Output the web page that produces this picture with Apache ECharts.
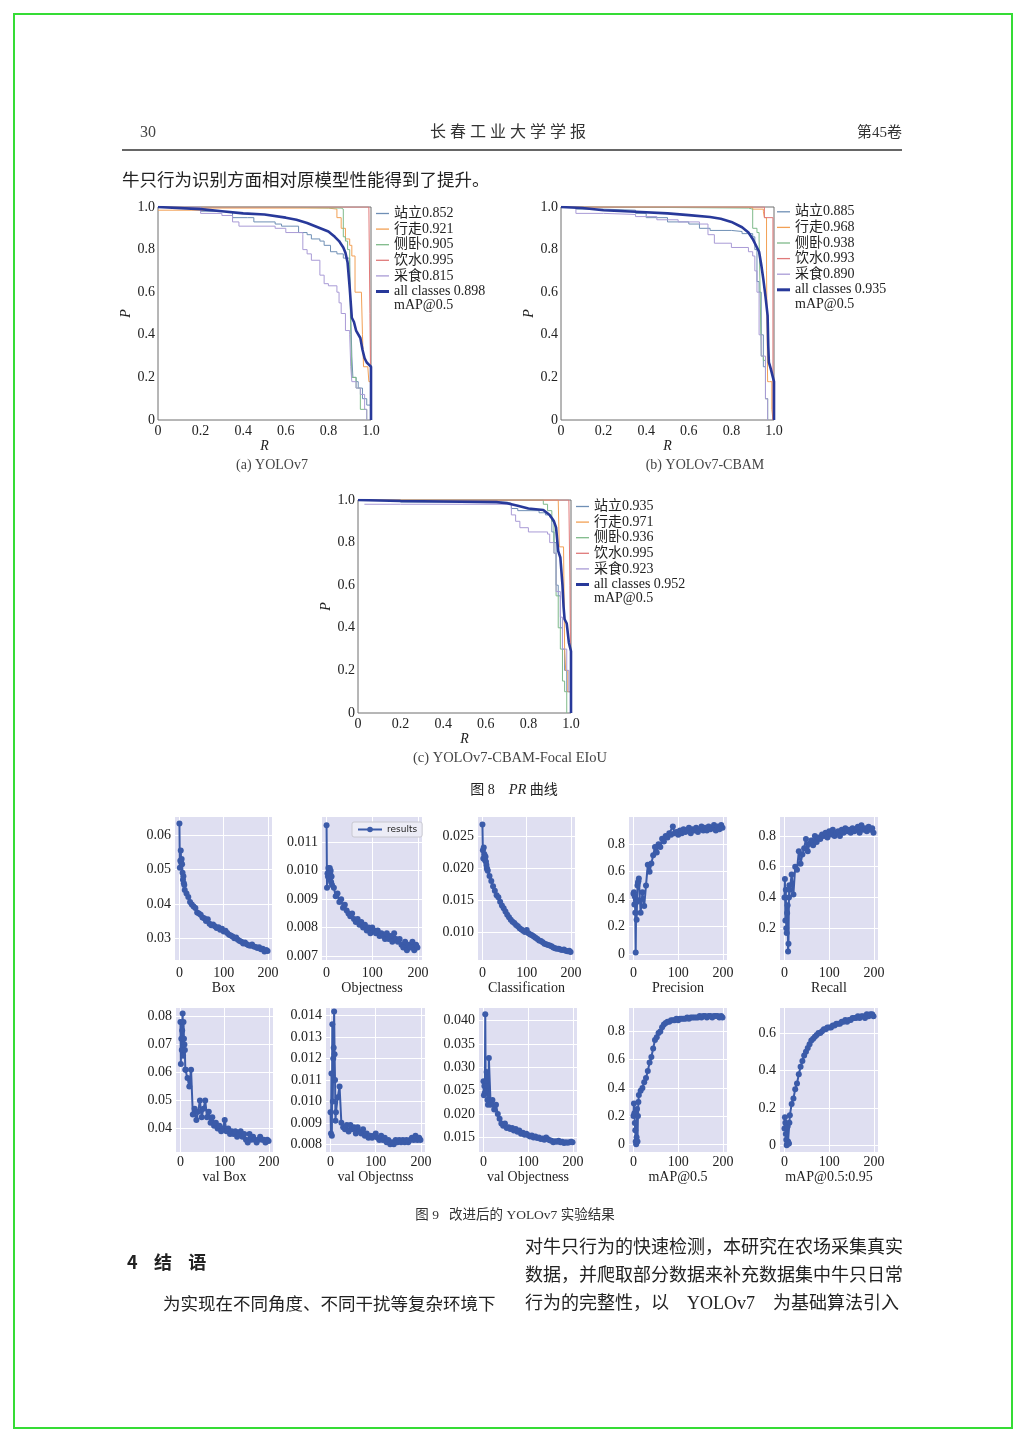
<!DOCTYPE html>
<html><head><meta charset="utf-8">
<script src="https://cdn.jsdelivr.net/npm/echarts@6/dist/echarts.min.js"></script>
<style>html,body{margin:0;padding:0;background:#fff}#c{width:1024px;height:1442px}</style>
</head><body><div id="c"></div><script>
// ---------- PR curve data: [R, P] ----------
const prA_names = ['站立0.852','行走0.921','侧卧0.905','饮水0.995','采食0.815'];
const prA_all = 'all classes 0.898';
const prA_stand = [[0,1],[0.05,1],[0.05,0.995],[0.2,0.99],[0.2,0.98],[0.3,0.975],[0.35,0.97],[0.35,0.95],[0.42,0.95],[0.45,0.93],[0.55,0.92],[0.58,0.91],[0.62,0.91],[0.66,0.88],[0.7,0.87],[0.72,0.85],[0.76,0.84],[0.78,0.82],[0.81,0.79],[0.84,0.78],[0.87,0.76],[0.9,0.73],[0.905,0.5],[0.91,0.3],[0.915,0.2],[0.93,0.18],[0.94,0.15],[0.96,0.1],[0.98,0.07],[1.0,0.02]];
const prA_walk = [[0,0.985],[0.22,0.985],[0.22,0.995],[0.8,0.99],[0.84,0.95],[0.86,0.9],[0.88,0.85],[0.9,0.82],[0.91,0.77],[0.925,0.6],[0.955,0.6],[0.96,0.4],[0.965,0.25],[0.985,0.25],[0.99,0.18],[1.0,0.05],[1.0,0]];
const prA_lie = [[0,1],[0.55,1],[0.55,0.995],[0.86,0.99],[0.87,0.86],[0.88,0.84],[0.89,0.8],[0.9,0.7],[0.905,0.4],[0.91,0.2],[0.93,0.15],[0.95,0.05],[0.98,0]];
const prA_drink = [[0,1],[0.99,1],[0.995,0.5],[1.0,0]];
const prA_feed = [[0,1],[0.2,0.99],[0.2,0.97],[0.3,0.96],[0.35,0.93],[0.38,0.91],[0.55,0.9],[0.6,0.88],[0.68,0.87],[0.68,0.8],[0.7,0.78],[0.72,0.75],[0.76,0.68],[0.78,0.64],[0.8,0.63],[0.84,0.6],[0.85,0.55],[0.86,0.5],[0.88,0.42],[0.9,0.4],[0.905,0.25],[0.91,0.18],[0.93,0.15],[0.95,0.12],[0.97,0.05],[0.98,0]];
const prA_allData = [[0,1],[0.2,0.99],[0.3,0.98],[0.4,0.97],[0.5,0.965],[0.6,0.95],[0.65,0.94],[0.7,0.925],[0.75,0.905],[0.8,0.885],[0.83,0.86],[0.85,0.84],[0.87,0.81],[0.88,0.785],[0.89,0.74],[0.9,0.62],[0.91,0.48],[0.92,0.46],[0.93,0.42],[0.95,0.385],[0.96,0.33],[0.97,0.29],[0.98,0.27],[0.99,0.26],[1.0,0.25],[1.0,0]];

const prB_names = ['站立0.885','行走0.968','侧卧0.938','饮水0.993','采食0.890'];
const prB_all = 'all classes 0.935';
const prB_stand = [[0,1],[0.07,0.99],[0.2,0.985],[0.35,0.97],[0.4,0.95],[0.5,0.93],[0.6,0.92],[0.65,0.9],[0.7,0.89],[0.8,0.885],[0.85,0.875],[0.9,0.86],[0.91,0.8],[0.92,0.65],[0.93,0.6],[0.94,0.4],[0.95,0.25],[0.96,0.1],[0.97,0]];
const prB_walk = [[0,1],[0.85,1],[0.9,0.99],[0.95,0.98],[0.955,0.95],[0.965,0.7],[0.97,0.18],[0.98,0.18],[0.99,0.05],[0.995,0]];
const prB_lie = [[0,1],[0.2,0.995],[0.88,0.99],[0.9,0.9],[0.92,0.88],[0.93,0.85],[0.935,0.6],[0.94,0.3],[0.95,0.28],[0.96,0.1],[0.97,0]];
const prB_drink = [[0,1],[0.955,1],[0.955,0.95],[0.995,0.95],[0.995,0]];
const prB_feed = [[0,1],[0.07,0.97],[0.2,0.965],[0.35,0.955],[0.45,0.94],[0.55,0.93],[0.65,0.92],[0.69,0.87],[0.72,0.83],[0.8,0.81],[0.88,0.79],[0.9,0.77],[0.91,0.7],[0.92,0.6],[0.93,0.4],[0.94,0.3],[0.96,0.1],[0.97,0]];
const prB_allData = [[0,1],[0.1,0.995],[0.2,0.985],[0.35,0.978],[0.5,0.97],[0.6,0.962],[0.7,0.953],[0.75,0.945],[0.8,0.93],[0.85,0.905],[0.88,0.88],[0.9,0.85],[0.92,0.81],[0.93,0.79],[0.94,0.73],[0.95,0.66],[0.96,0.58],[0.97,0.49],[0.973,0.35],[0.976,0.27],[0.985,0.24],[0.99,0.22],[1.0,0.18],[1.0,0]];

const prC_names = ['站立0.935','行走0.971','侧卧0.936','饮水0.995','采食0.923'];
const prC_all = 'all classes 0.952';
const prC_stand = [[0,1],[0.2,0.99],[0.5,0.99],[0.7,0.985],[0.72,0.96],[0.75,0.95],[0.85,0.94],[0.88,0.93],[0.9,0.92],[0.91,0.85],[0.92,0.8],[0.93,0.6],[0.94,0.55],[0.95,0.4],[0.96,0.3],[0.97,0.2],[0.98,0.1],[1.0,0]];
const prC_walk = [[0,1],[0.94,1],[0.945,0.78],[0.965,0.78],[0.97,0.3],[0.975,0.2],[0.985,0.1],[1.0,0]];
const prC_lie = [[0,1],[0.8,1],[0.87,0.98],[0.89,0.95],[0.91,0.9],[0.92,0.75],[0.93,0.55],[0.94,0.4],[0.95,0.3],[0.96,0.15],[0.97,0.1],[0.98,0]];
const prC_drink = [[0,1],[0.99,1],[0.995,0.6],[1.0,0]];
const prC_feed = [[0.03,0.98],[0.2,0.98],[0.7,0.98],[0.72,0.93],[0.74,0.9],[0.76,0.87],[0.8,0.85],[0.89,0.84],[0.9,0.8],[0.92,0.75],[0.93,0.57],[0.95,0.45],[0.96,0.3],[0.98,0.2],[0.99,0.1],[1.0,0]];
const prC_allData = [[0,1],[0.2,0.995],[0.4,0.993],[0.65,0.99],[0.7,0.985],[0.75,0.973],[0.8,0.96],[0.87,0.953],[0.9,0.93],[0.92,0.9],[0.93,0.87],[0.94,0.76],[0.95,0.73],[0.96,0.6],[0.965,0.5],[0.97,0.44],[0.98,0.42],[0.99,0.33],[1.0,0.29],[1.0,0]];

// ---------- Training results (fig 9) ----------
const epochs = [0,1,2,3,4,5,6,7,8,9,10,11,12,16,20,24,28,32,36,40,44,48,52,56,60,64,68,72,76,80,84,88,92,96,100,104,108,112,116,120,124,128,132,136,140,144,148,152,156,160,164,168,172,176,180,184,188,192,196,199];
const boxLoss = [0.0633,0.0505,0.0525,0.0555,0.0520,0.0530,0.0515,0.0490,0.0470,0.0480,0.0460,0.0455,0.0440,0.0430,0.0420,0.0405,0.0398,0.0392,0.0388,0.0375,0.0372,0.0368,0.0360,0.0358,0.0350,0.0355,0.0342,0.0338,0.0340,0.0335,0.0330,0.0332,0.0325,0.0328,0.0320,0.0322,0.0315,0.0310,0.0308,0.0305,0.0300,0.0302,0.0296,0.0292,0.0290,0.0285,0.0288,0.0283,0.0280,0.0278,0.0282,0.0276,0.0275,0.0272,0.0274,0.0268,0.0270,0.0262,0.0266,0.0263];
const objLoss = [0.0116,0.0094,0.0099,0.0098,0.0101,0.0100,0.0097,0.0101,0.0099,0.0100,0.0096,0.0098,0.0095,0.0094,0.0091,0.0092,0.0089,0.0090,0.0087,0.0088,0.0086,0.0085,0.0084,0.0085,0.0083,0.0082,0.0083,0.0081,0.0082,0.0080,0.0081,0.0079,0.0080,0.0078,0.0080,0.0079,0.0078,0.0079,0.0077,0.0078,0.0077,0.0076,0.0078,0.0076,0.0077,0.0075,0.0078,0.0076,0.0075,0.0076,0.0074,0.0073,0.0075,0.0072,0.0074,0.0073,0.0075,0.0072,0.0074,0.0073];
const clsLoss = [0.0268,0.0228,0.0215,0.0232,0.0222,0.0220,0.0212,0.0218,0.0210,0.0205,0.0200,0.0198,0.0196,0.0188,0.0180,0.0172,0.0165,0.0158,0.0155,0.0148,0.0142,0.0138,0.0133,0.0128,0.0124,0.0120,0.0117,0.0115,0.0112,0.0110,0.0107,0.0105,0.0103,0.0101,0.0104,0.0099,0.0097,0.0096,0.0094,0.0092,0.0090,0.0088,0.0087,0.0085,0.0083,0.0082,0.0081,0.0080,0.0079,0.0077,0.0076,0.0075,0.0075,0.0074,0.0073,0.0074,0.0072,0.0071,0.0072,0.0070];
const precision = [0.44,0.45,0.36,0.42,0.30,0.01,0.40,0.25,0.38,0.50,0.52,0.53,0.55,0.30,0.45,0.35,0.50,0.65,0.60,0.66,0.72,0.78,0.74,0.80,0.78,0.84,0.82,0.86,0.85,0.88,0.87,0.93,0.88,0.89,0.87,0.90,0.88,0.91,0.89,0.90,0.92,0.88,0.91,0.90,0.92,0.89,0.91,0.93,0.90,0.92,0.90,0.93,0.91,0.92,0.94,0.90,0.93,0.91,0.94,0.92];
const recall = [0.40,0.52,0.25,0.45,0.20,0.17,0.30,0.35,0.05,0.10,0.40,0.48,0.45,0.55,0.42,0.60,0.58,0.70,0.62,0.68,0.72,0.78,0.70,0.75,0.77,0.74,0.80,0.76,0.79,0.78,0.81,0.80,0.82,0.79,0.83,0.81,0.84,0.80,0.82,0.83,0.80,0.84,0.82,0.85,0.83,0.84,0.82,0.85,0.83,0.84,0.86,0.82,0.87,0.84,0.85,0.83,0.86,0.84,0.85,0.82];
const valBox = [0.078,0.063,0.072,0.068,0.075,0.081,0.066,0.078,0.072,0.070,0.068,0.061,0.061,0.058,0.055,0.061,0.045,0.047,0.043,0.046,0.050,0.044,0.047,0.050,0.044,0.046,0.042,0.044,0.041,0.042,0.040,0.041,0.039,0.040,0.043,0.039,0.040,0.038,0.039,0.038,0.039,0.037,0.038,0.039,0.037,0.038,0.036,0.035,0.038,0.036,0.037,0.036,0.035,0.036,0.037,0.036,0.036,0.035,0.036,0.0355];
const valObj = [0.0095,0.0085,0.0113,0.0084,0.0136,0.0100,0.0120,0.0125,0.0142,0.0122,0.0110,0.0091,0.0095,0.0102,0.0107,0.0090,0.0088,0.0087,0.0089,0.0086,0.0089,0.0087,0.0088,0.0085,0.0088,0.0086,0.0085,0.0087,0.0084,0.0085,0.0083,0.0084,0.0083,0.0084,0.0085,0.0083,0.0082,0.0084,0.0082,0.0083,0.0081,0.0082,0.0080,0.0081,0.0080,0.0082,0.0081,0.0082,0.0081,0.0082,0.0081,0.0082,0.0081,0.0082,0.0083,0.0082,0.0084,0.0082,0.0083,0.0082];
const valCls = [0.027,0.024,0.026,0.0245,0.0413,0.025,0.027,0.029,0.026,0.023,0.022,0.023,0.032,0.022,0.023,0.021,0.022,0.020,0.019,0.018,0.0175,0.018,0.0170,0.0172,0.0168,0.0170,0.0165,0.0168,0.0162,0.0165,0.0158,0.0160,0.0156,0.0158,0.0155,0.0152,0.0154,0.0150,0.0152,0.0149,0.0150,0.0147,0.0148,0.0145,0.0150,0.0146,0.0144,0.0143,0.0140,0.0142,0.0141,0.0143,0.0140,0.0141,0.0138,0.0140,0.0139,0.0140,0.0141,0.0140];
const map50 = [0.20,0.29,0.22,0.15,0.10,0.02,0.00,0.05,0.25,0.02,0.20,0.30,0.35,0.38,0.40,0.44,0.47,0.52,0.58,0.62,0.68,0.74,0.76,0.79,0.80,0.83,0.85,0.86,0.87,0.87,0.88,0.88,0.88,0.89,0.88,0.89,0.89,0.89,0.89,0.90,0.89,0.90,0.90,0.90,0.90,0.90,0.91,0.90,0.91,0.91,0.90,0.91,0.91,0.90,0.91,0.91,0.91,0.90,0.91,0.90];
const map5095 = [0.09,0.15,0.12,0.06,0.03,0.00,0.01,0.10,0.02,0.01,0.01,0.12,0.16,0.22,0.25,0.30,0.33,0.38,0.42,0.45,0.48,0.50,0.52,0.54,0.56,0.57,0.58,0.59,0.60,0.60,0.61,0.62,0.62,0.63,0.63,0.63,0.64,0.64,0.65,0.65,0.65,0.66,0.66,0.67,0.66,0.67,0.67,0.68,0.68,0.68,0.69,0.68,0.69,0.69,0.68,0.70,0.69,0.70,0.70,0.69];

const epochTicks = [0,100,200];
const epochRange = [-10,209];
const boxTicks = [0.03,0.04,0.05,0.06], boxRange = [0.0237,0.0652];
const objTicks = [0.007,0.008,0.009,0.010,0.011], objRange = [0.00686,0.01189];
const clsTicks = [0.010,0.015,0.020,0.025], clsRange = [0.00576,0.02795];
const precTicks = [0,0.2,0.4,0.6,0.8], precRange = [-0.044,0.999];
const recTicks = [0.2,0.4,0.6,0.8], recRange = [-0.006,0.923];
const vboxTicks = [0.04,0.05,0.06,0.07,0.08], vboxRange = [0.0316,0.083];
const vobjTicks = [0.008,0.009,0.010,0.011,0.012,0.013,0.014], vobjRange = [0.00764,0.01436];
const vclsTicks = [0.015,0.020,0.025,0.030,0.035,0.040], vclsRange = [0.0119,0.04266];
const m50Ticks = [0,0.2,0.4,0.6,0.8], m50Range = [-0.055,0.967];
const m95Ticks = [0,0.2,0.4,0.6], m95Range = [-0.036,0.734];

// ---------- styling ----------
const SERIF = '"Liberation Serif","Noto Sans CJK SC",serif';
const TXT = '#222';
const CLASS_COLORS = ['#6f8fb5','#f2a055','#7fba8a','#e07a7a','#a99bd6'];
const ALL_COLOR = '#28399a';
const RES_COLOR = '#3b5ba9';

const grids = [], xAxes = [], yAxes = [], series = [], legends = [], graphics = [];

function txt(x, y, text, size, extra) {
  graphics.push({type:'text', x:x, y:y, silent:true, z:10,
    style:Object.assign({text:text, fontSize:size, fontFamily:SERIF, fill:TXT,
      textAlign:'left', align:'left', textVerticalAlign:'middle', verticalAlign:'middle'}, extra||{})});
}

// PR panels
const prPanels = [
  {box:[158,207,213,213], lg:[376,205.7], names:prA_names, data:[prA_stand,prA_walk,prA_lie,prA_drink,prA_feed], all:prA_all, allData:prA_allData},
  {box:[561,207,213,213], lg:[777,204], names:prB_names, data:[prB_stand,prB_walk,prB_lie,prB_drink,prB_feed], all:prB_all, allData:prB_allData},
  {box:[358,500,213,213], lg:[576,498.7], names:prC_names, data:[prC_stand,prC_walk,prC_lie,prC_drink,prC_feed], all:prC_all, allData:prC_allData}
];
const prFmt = v => Math.abs(v) < 1e-9 ? '0' : v.toFixed(1);
prPanels.forEach((p, gi) => {
  grids.push({left:p.box[0], top:p.box[1], width:p.box[2], height:p.box[3], show:true,
    borderColor:'#6e6e6e', borderWidth:1, backgroundColor:'transparent'});
  xAxes.push({type:'value', gridIndex:gi, min:0, max:1, interval:0.2,
    axisLine:{show:false}, axisTick:{show:false}, splitLine:{show:false},
    axisLabel:{formatter:prFmt, fontFamily:SERIF, fontSize:14, color:TXT, margin:4},
    name:'R', nameLocation:'middle', nameGap:17,
    nameTextStyle:{fontFamily:SERIF, fontStyle:'italic', fontSize:14, color:TXT}});
  yAxes.push({type:'value', gridIndex:gi, min:0, max:1, interval:0.2,
    axisLine:{show:false}, axisTick:{show:false}, splitLine:{show:false},
    axisLabel:{formatter:prFmt, fontFamily:SERIF, fontSize:14, color:TXT, margin:3},
    name:'P', nameLocation:'middle', nameGap:24,
    nameTextStyle:{fontFamily:SERIF, fontStyle:'italic', fontSize:14, color:TXT}});
  p.names.forEach((nm, k) => {
    series.push({type:'line', name:nm, xAxisIndex:gi, yAxisIndex:gi, data:p.data[k], step:'end',
      symbol:'none', silent:true, z:2, lineStyle:{width:1, color:CLASS_COLORS[k]},
      itemStyle:{color:CLASS_COLORS[k]}});
  });
  series.push({type:'line', name:p.all, xAxisIndex:gi, yAxisIndex:gi, data:p.allData,
    symbol:'none', silent:true, z:3, lineStyle:{width:2.6, color:ALL_COLOR}, itemStyle:{color:ALL_COLOR}});
  const lgBase = {orient:'vertical', padding:0, itemGap:0, itemWidth:13, icon:'rect',
    selectedMode:false, itemStyle:{borderWidth:0},
    textStyle:{fontFamily:SERIF, fontSize:14, color:TXT, lineHeight:15.6, padding:[0,0,0,0]}};
  legends.push(Object.assign({}, lgBase, {data:p.names, left:p.lg[0], top:p.lg[1], itemHeight:1.3}));
  legends.push(Object.assign({}, lgBase, {data:[p.all], left:p.lg[0], top:p.lg[1] + 5*15.6, itemHeight:3}));
  txt(p.lg[0] + 18, p.lg[1] + 6*15.6 + 6.5, 'mAP@0.5', 14);
});

// Results panels
const resPanels = [
  {title:'Box', sname:'Box', vals:boxLoss, ticks:boxTicks, range:boxRange, dec:2, box:[175,817,97,143]},
  {title:'Objectness', sname:'results', vals:objLoss, ticks:objTicks, range:objRange, dec:3, box:[322,817,100,143]},
  {title:'Classification', sname:'Classification', vals:clsLoss, ticks:clsTicks, range:clsRange, dec:3, box:[478,817,97,143]},
  {title:'Precision', sname:'Precision', vals:precision, ticks:precTicks, range:precRange, dec:1, box:[629,817,98,143]},
  {title:'Recall', sname:'Recall', vals:recall, ticks:recTicks, range:recRange, dec:1, box:[780,817,98,143]},
  {title:'val Box', sname:'val Box', vals:valBox, ticks:vboxTicks, range:vboxRange, dec:2, box:[176,1008,97,144]},
  {title:'val Objectnss', sname:'val Objectnss', vals:valObj, ticks:vobjTicks, range:vobjRange, dec:3, box:[326,1008,99,144]},
  {title:'val Objectness', sname:'val Objectness', vals:valCls, ticks:vclsTicks, range:vclsRange, dec:3, box:[479,1008,98,144]},
  {title:'mAP@0.5', sname:'mAP@0.5', vals:map50, ticks:m50Ticks, range:m50Range, dec:1, box:[629,1008,98,144]},
  {title:'mAP@0.5:0.95', sname:'mAP@0.5:0.95', vals:map5095, ticks:m95Ticks, range:m95Range, dec:1, box:[780,1008,98,144]}
];
resPanels.forEach((p, i) => {
  const gi = grids.length;
  const row1 = i < 5;
  grids.push({left:p.box[0], top:p.box[1], width:p.box[2], height:p.box[3], show:true,
    backgroundColor:'#dfdff1', borderWidth:0});
  xAxes.push({type:'value', gridIndex:gi, min:epochRange[0], max:epochRange[1],
    axisLine:{show:false}, axisTick:{show:false, customValues:epochTicks},
    splitLine:{show:true, lineStyle:{color:'#ffffff', width:1}},
    axisLabel:{customValues:epochTicks, fontFamily:SERIF, fontSize:14, color:TXT, margin: row1 ? 6 : 3},
    name:p.title, nameLocation:'middle', nameGap: row1 ? 21 : 17,
    nameTextStyle:{fontFamily:SERIF, fontSize:14, color:TXT}});
  const d = p.dec;
  yAxes.push({type:'value', gridIndex:gi, min:p.range[0], max:p.range[1],
    axisLine:{show:false}, axisTick:{show:false, customValues:p.ticks},
    splitLine:{show:true, lineStyle:{color:'#ffffff', width:1}},
    axisLabel:{customValues:p.ticks, fontFamily:SERIF, fontSize:14, color:TXT, margin:4,
      formatter: v => Math.abs(v) < 1e-9 ? '0' : v.toFixed(d)}});
  series.push({type:'line', name:p.sname, xAxisIndex:gi, yAxisIndex:gi,
    data:epochs.map((e, k) => [e, p.vals[k]]), symbol:'circle', symbolSize:6, showSymbol:true,
    silent:true, lineStyle:{width:2, color:RES_COLOR}, itemStyle:{color:RES_COLOR}});
});
legends.push({data:['results'], left:352, top:822, orient:'horizontal', padding:[3,5,3,5],
  itemWidth:24, itemHeight:7, selectedMode:false, backgroundColor:'rgba(236,236,246,0.95)',
  borderColor:'#c8c8d0', borderWidth:1, borderRadius:2,
  textStyle:{fontFamily:'"DejaVu Sans",sans-serif', fontSize:9, color:TXT}});

// Page text and decorations
graphics.push({type:'rect', silent:true, shape:{x:14, y:14, width:998, height:1414},
  style:{fill:'none', stroke:'#35dc35', lineWidth:2}});
graphics.push({type:'line', silent:true, shape:{x1:122, y1:150, x2:902, y2:150},
  style:{stroke:'#333', lineWidth:1.5}});
txt(140, 133, '30', 16, {fill:'#444'});
txt(508, 133, '长 春 工 业 大 学 学 报', 16, {textAlign:'center', align:'center', fill:'#333'});
txt(902, 133, '第45卷', 15, {textAlign:'right', align:'right', fill:'#333'});
txt(122, 181, '牛只行为识别方面相对原模型性能得到了提升。', 17.5);
txt(272, 465, '(a) YOLOv7', 14, {textAlign:'center', align:'center', fill:'#444'});
txt(705, 465, '(b) YOLOv7-CBAM', 14, {textAlign:'center', align:'center', fill:'#444'});
txt(510, 758, '(c) YOLOv7-CBAM-Focal EIoU', 14.5, {textAlign:'center', align:'center', fill:'#444'});
txt(514, 790, '图 8    {i|PR} 曲线', 14, {textAlign:'center', align:'center',
  rich:{i:{fontStyle:'italic', fontFamily:SERIF, fontSize:14.5, fill:TXT}}});
txt(515, 1215, '图 9   改进后的 YOLOv7 实验结果', 13.5, {textAlign:'center', align:'center', fill:'#333'});
txt(127, 1262, '4    结    语', 18, {fontWeight:'bold', fontFamily:'"Noto Sans CJK SC","Liberation Sans",sans-serif'});
txt(163, 1305, '为实现在不同角度、不同干扰等复杂环境下', 17.5);
txt(525, 1248, '对牛只行为的快速检测，本研究在农场采集真实', 18);
txt(525, 1276, '数据，并爬取部分数据来补充数据集中牛只日常', 18);
txt(525, 1304, '行为的完整性，以    YOLOv7    为基础算法引入', 18);

const chart = echarts.init(document.getElementById('c'), null, {renderer:'canvas'});
chart.setOption({
  animation:false,
  backgroundColor:'#ffffff',
  grid:grids, xAxis:xAxes, yAxis:yAxes, series:series, legend:legends,
  graphic:{elements:graphics}
});
</script></body></html>
